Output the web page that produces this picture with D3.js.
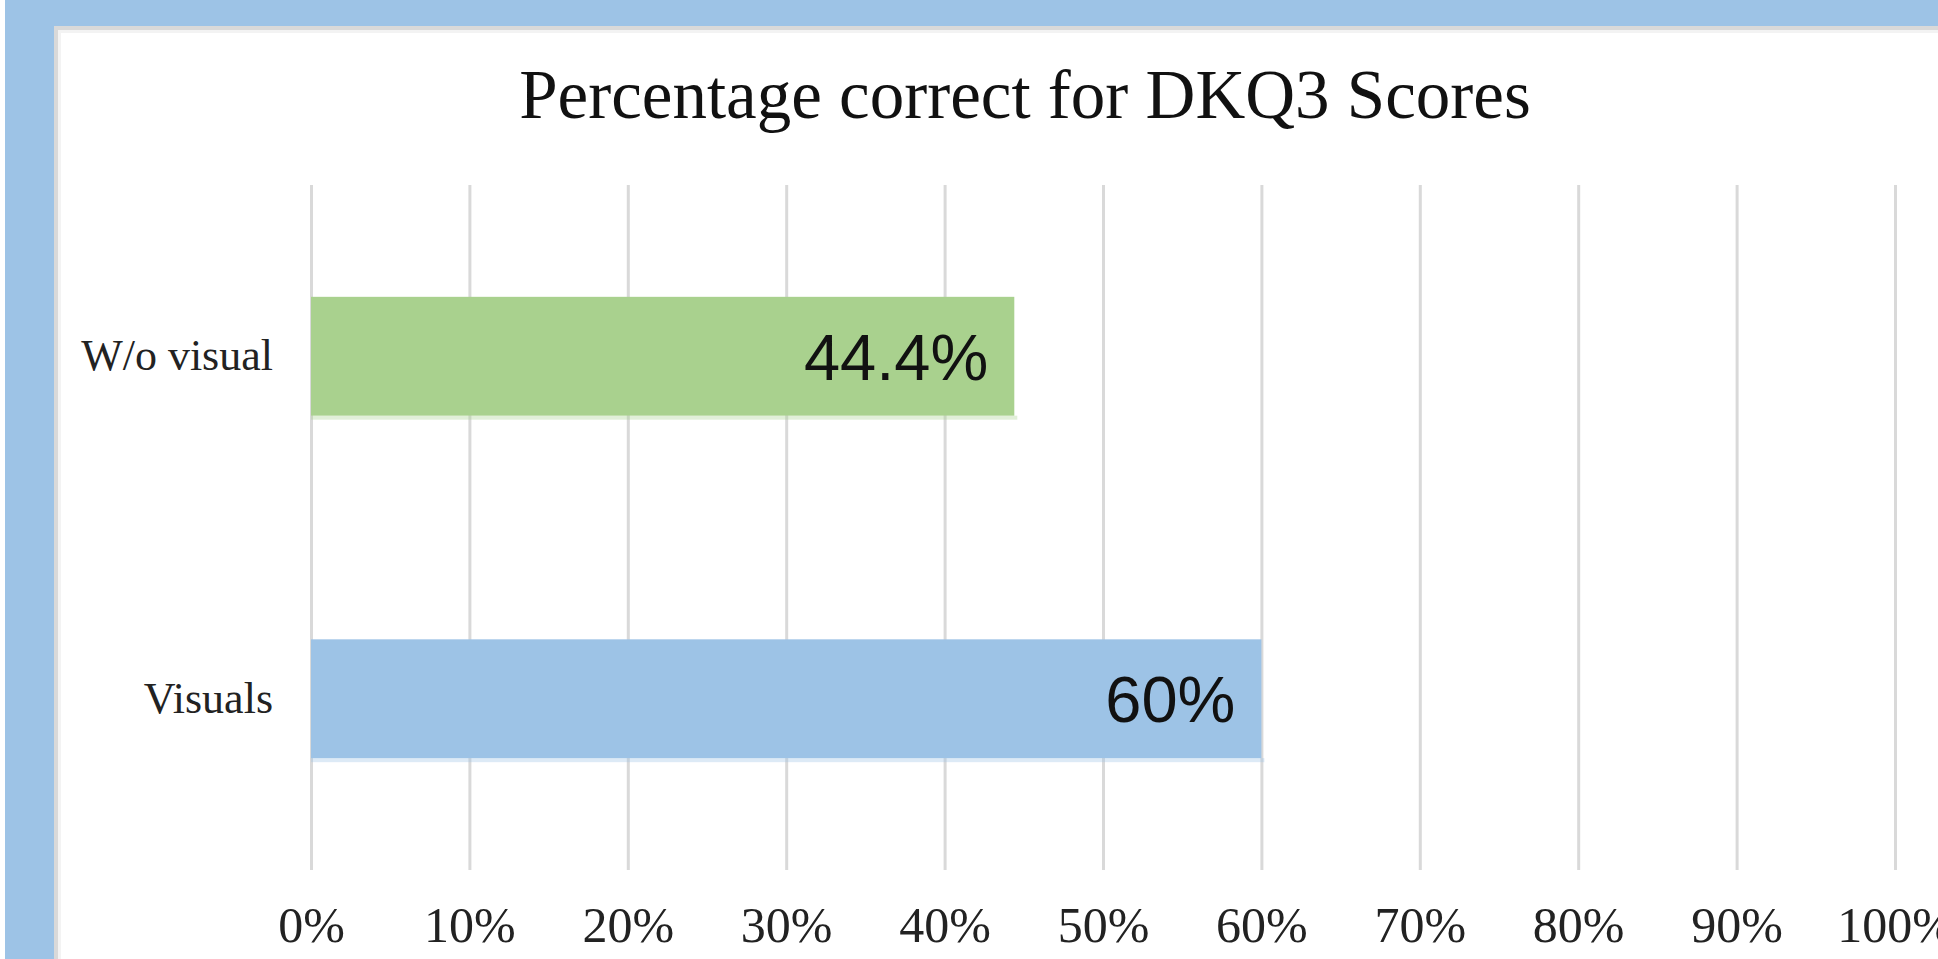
<!DOCTYPE html>
<html>
<head>
<meta charset="utf-8">
<script src="https://cdn.jsdelivr.net/npm/d3@7"></script>
<style>
    body { margin: 0; background: #fff; }
    svg { display: block; }
</style>
</head>
<body>
<script>
var categories = ['W/o visual', 'Visuals'],
    values = [0.444, 0.60],
    valueLabels = ['44.4%', '60%'],
    barColors = ['#a9d18e', '#9dc3e6'],
    tickValues = [0, 0.1, 0.2, 0.3, 0.4, 0.5, 0.6, 0.7, 0.8, 0.9, 1.0],
    title = 'Percentage correct for DKQ3 Scores';

var width = 1938,
    height = 959,
    plot = {left: 311, right: 1895, top: 185, bottom: 870},
    serif = '"Liberation Serif", "Times New Roman", serif',
    sans = '"Liberation Sans", Arial, sans-serif';

var svg = d3.select('body').append('svg')
    .attr('width', width)
    .attr('height', height);

// blue frame round the chart panel
svg.append('rect').attr('x', 5).attr('y', 0).attr('width', width - 5).attr('height', height).attr('fill', '#9dc3e6');
svg.append('rect').attr('x', 54).attr('y', 26).attr('width', width - 54).attr('height', height - 26).attr('fill', '#d9d9d9');
svg.append('rect').attr('x', 58).attr('y', 30).attr('width', width - 58).attr('height', height - 30).attr('fill', '#f3f3f3');
svg.append('rect').attr('x', 61).attr('y', 33).attr('width', width - 61).attr('height', height - 33).attr('fill', '#fff');

var x = d3.scaleLinear()
    .domain([0, 1])
    .range([plot.left, plot.right]);

var y = d3.scaleBand()
    .domain(categories)
    .range([plot.top, plot.bottom])
    .paddingInner(0.653)
    .paddingOuter(0.3265);

// gridlines
var grid = svg.append('g')
    .attr('transform', 'translate(0,' + plot.bottom + ')')
    .call(d3.axisBottom(x).tickValues(tickValues).tickSize(-(plot.bottom - plot.top)).tickFormat(''));
grid.select('.domain').remove();
grid.selectAll('line').attr('stroke', '#d9d9d9').attr('stroke-width', 3);

// x tick labels
var xAxis = svg.append('g')
    .attr('transform', 'translate(0,' + plot.bottom + ')')
    .call(d3.axisBottom(x).tickValues(tickValues).tickSize(0).tickPadding(36.5).tickFormat(d3.format('.0%')));
xAxis.select('.domain').remove();
xAxis.selectAll('text')
    .attr('font-family', serif)
    .attr('font-size', 50)
    .attr('fill', '#222');

// category labels
var yAxis = svg.append('g')
    .attr('transform', 'translate(' + plot.left + ',0)')
    .call(d3.axisLeft(y).tickSize(0).tickPadding(38));
yAxis.select('.domain').remove();
yAxis.selectAll('text')
    .attr('dy', '0.32em')
    .attr('font-family', serif)
    .attr('font-size', 44)
    .attr('fill', '#222');

// faint edge under each bar
svg.selectAll('.edge')
    .data(categories)
    .enter().append('rect')
    .attr('class', 'edge')
    .attr('x', x(0))
    .attr('y', function(d) { return y(d) + y.bandwidth(); })
    .attr('width', function(d, i) { return x(values[i]) - x(0) + 3; })
    .attr('height', 4)
    .attr('fill', function(d, i) { return barColors[i]; })
    .attr('opacity', 0.35);

// bars
svg.selectAll('.bar')
    .data(categories)
    .enter().append('rect')
    .attr('class', 'bar')
    .attr('x', x(0))
    .attr('y', function(d) { return y(d); })
    .attr('width', function(d, i) { return x(values[i]) - x(0); })
    .attr('height', y.bandwidth())
    .attr('fill', function(d, i) { return barColors[i]; });

// value labels inside the bar ends
svg.selectAll('.value')
    .data(categories)
    .enter().append('text')
    .attr('class', 'value')
    .attr('x', function(d, i) { return x(values[i]) - 26; })
    .attr('y', function(d) { return y(d) + y.bandwidth() / 2 + 23.5; })
    .attr('text-anchor', 'end')
    .attr('font-family', sans)
    .attr('font-size', 65)
    .attr('fill', '#111')
    .text(function(d, i) { return valueLabels[i]; });

// title
svg.append('text')
    .attr('x', 1025)
    .attr('y', 118)
    .attr('text-anchor', 'middle')
    .attr('font-family', serif)
    .attr('font-size', 69)
    .attr('fill', '#111')
    .text(title);
</script>
</body>
</html>
